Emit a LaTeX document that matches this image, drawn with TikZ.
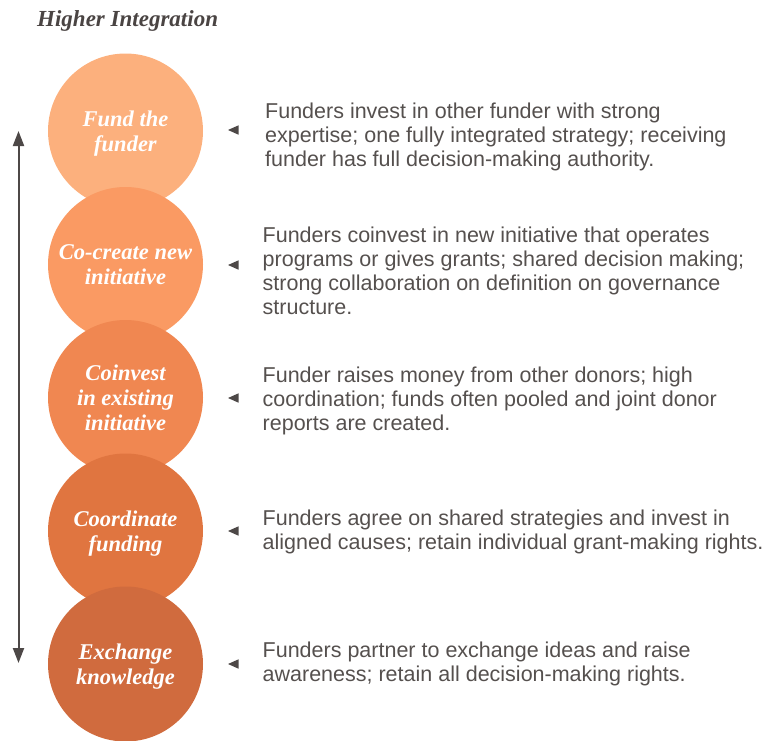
\documentclass[tikz,border=0pt]{standalone}
\usepackage{fontspec}
\setmainfont{Liberation Serif}
\newfontfamily\descfont{Liberation Sans}
\usetikzlibrary{arrows.meta}
\definecolor{cone}{HTML}{FCB07D}
\definecolor{ctwo}{HTML}{FA9A63}
\definecolor{cthree}{HTML}{F08751}
\definecolor{cfour}{HTML}{E07540}
\definecolor{cfive}{HTML}{D06B3E}
\definecolor{descgray}{HTML}{55504E}
\definecolor{titlegray}{HTML}{4A4443}
\definecolor{arrowgray}{HTML}{4D4847}
\begin{document}
\begin{tikzpicture}[x=1pt,y=-1pt,
  stage/.style={circle,minimum size=155pt,inner sep=0pt},
  stagetext/.style={inner sep=0pt,text=white,yshift=-2.5pt,
    font=\fontsize{22.5}{25}\selectfont\bfseries\itshape,align=center},
  desc/.style={anchor=base west,inner sep=0pt,align=left,text=descgray,
    font=\descfont\fontsize{21.5}{24}\selectfont},
  pointer/.style={fill=arrowgray},
  axis/.style={draw=arrowgray,line width=2pt,
    {Triangle[length=15pt,width=11pt]}-{Triangle[length=15pt,width=11pt]}}]
\useasboundingbox (0,0) rectangle (769,740);
\node[anchor=base west,inner sep=0pt,text=titlegray,
  font=\fontsize{23}{26}\selectfont\bfseries\itshape] (title) at (37,26.5) {Higher Integration};
% circles
\node[stage,fill=cone]   (s1) at (125.5,131)   {};
\node[stagetext] (t1) at (s1) {\strut Fund the\\funder\strut};
\node[stage,fill=ctwo]   (s2) at (125.5,264.5) {};
\node[stagetext] (t2) at (s2) {\strut Co-create new\\initiative\strut};
\node[stage,fill=cthree] (s3) at (125.5,397.5) {};
\node[stagetext] (t3) at (s3) {\strut Coinvest\\in existing\\initiative\strut};
\node[stage,fill=cfour]  (s4) at (125.5,531)   {};
\node[stagetext] (t4) at (s4) {\strut Coordinate\\funding\strut};
\node[stage,fill=cfive]  (s5) at (125.5,664)   {};
\node[stagetext] (t5) at (s5) {\strut Exchange\\knowledge\strut};
% axis arrow
\coordinate (atop) at (18.5,131);
\coordinate (abot) at (18.5,663);
\draw[axis] (atop) -- (abot);
% pointers
\foreach \n/\y in {1/130,2/265,3/398,4/531,5/664}{
  \coordinate (p\n) at (228,\y);
  \fill[pointer] (p\n) -- ++(10.5,-4.7) -- ++(0,9.4) -- cycle;
}
% descriptions (base anchor = baseline of last line)
\node[desc] (d1) at (265,166.5) {Funders invest in other funder with strong\\expertise; one fully integrated strategy; receiving\\funder has full decision-making authority.};
\node[desc] (d2) at (262.5,314) {Funders coinvest in new initiative that operates\\programs or gives grants; shared decision making;\\strong collaboration on definition on governance\\structure.};
\node[desc] (d3) at (262.5,430) {Funder raises money from other donors; high\\coordination; funds often pooled and joint donor\\reports are created.};
\node[desc] (d4) at (262.5,549) {Funders agree on shared strategies and invest in\\aligned causes; retain individual grant-making rights.};
\node[desc] (d5) at (262.5,681) {Funders partner to exchange ideas and raise\\awareness; retain all decision-making rights.};
\end{tikzpicture}
\end{document}
